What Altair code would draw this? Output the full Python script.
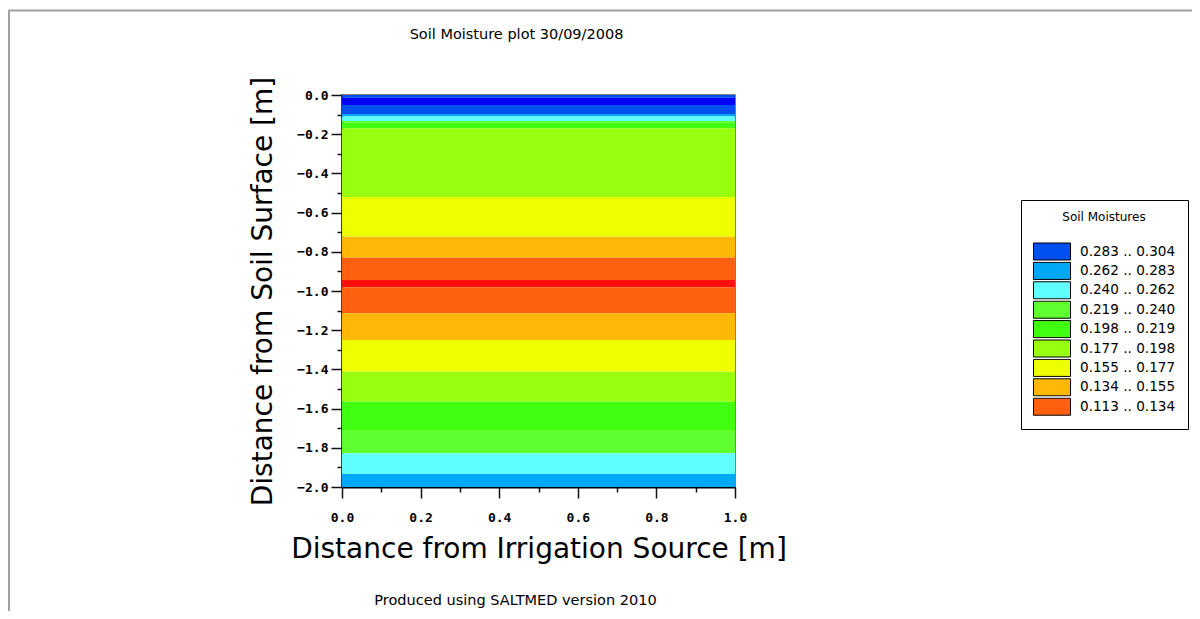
import altair as alt
import pandas as pd

TITLE = "Soil Moisture plot 30/09/2008"
FOOTER = "Produced using SALTMED version 2010"
X_TITLE = "Distance from Irrigation Source [m]"
Y_TITLE = "Distance from Soil Surface [m]"
LEGEND_TITLE = "Soil Moistures"

# horizontal moisture bands (depth in m, negative downward)
BAND_TOP = [0.000, -0.014, -0.051, -0.097, -0.110, -0.133, -0.141, -0.170,
            -0.520, -0.723, -0.830, -0.944, -0.981, -1.114, -1.250, -1.412,
            -1.565, -1.709, -1.828, -1.934]
BAND_BOTTOM = [-0.014, -0.051, -0.097, -0.110, -0.133, -0.141, -0.170, -0.520,
               -0.723, -0.830, -0.944, -0.981, -1.114, -1.250, -1.412, -1.565,
               -1.709, -1.828, -1.934, -2.000]
BAND_CLASS = ["0.283 .. 0.304", "> 0.304", "0.283 .. 0.304", "0.262 .. 0.283",
              "0.240 .. 0.262", "0.219 .. 0.240", "0.198 .. 0.219", "0.177 .. 0.198",
              "0.155 .. 0.177", "0.134 .. 0.155", "0.113 .. 0.134", "< 0.113",
              "0.113 .. 0.134", "0.134 .. 0.155", "0.155 .. 0.177", "0.177 .. 0.198",
              "0.198 .. 0.219", "0.219 .. 0.240", "0.240 .. 0.262", "0.262 .. 0.283"]
X_START = 0.0
X_END = 1.0

LEGEND_CLASSES = ["0.283 .. 0.304", "0.262 .. 0.283", "0.240 .. 0.262",
                  "0.219 .. 0.240", "0.198 .. 0.219", "0.177 .. 0.198",
                  "0.155 .. 0.177", "0.134 .. 0.155", "0.113 .. 0.134"]
LEGEND_COLORS = ["#0050f0", "#00a8f8", "#60ffff", "#60ff30", "#40ff10",
                 "#99ff10", "#eeff00", "#ffb808", "#ff6010"]
EXTRA_CLASSES = ["> 0.304", "< 0.113"]
EXTRA_COLORS = ["#0000f8", "#ff1010"]

X_TICKS = [0.0, 0.2, 0.4, 0.6, 0.8, 1.0]
X_MINOR = [0.1, 0.3, 0.5, 0.7, 0.9]
Y_TICKS = [0.0, -0.2, -0.4, -0.6, -0.8, -1.0, -1.2, -1.4, -1.6, -1.8, -2.0]
Y_MINOR = [-0.1, -0.3, -0.5, -0.7, -0.9, -1.1, -1.3, -1.5, -1.7, -1.9]

n = len(BAND_TOP)
bands = pd.DataFrame({
    "top": BAND_TOP,
    "bottom": BAND_BOTTOM,
    "cls": BAND_CLASS,
    "x0": [X_START] * n,
    "x1": [X_END] * n,
})

TICK_FONT = "DejaVu Sans Mono"
TEXT_FONT = "DejaVu Sans"

x_scale = alt.Scale(domain=[0, 1], nice=False, zero=False)
y_scale = alt.Scale(domain=[-2, 0], nice=False, zero=False)

common_major = dict(
    format=".1f", tickSize=11, tickWidth=1.5, tickColor="#111",
    domainColor="#000", domainWidth=2, grid=False,
    labelFont=TICK_FONT, labelFontSize=13, labelFontWeight="bold",
    labelColor="#000", labelFlush=False, labelOverlap=False, labelBound=False,
    titleFont=TEXT_FONT, titleFontSize=28, titleFontWeight="normal",
    titleColor="#000",
)

major_x = alt.Axis(values=X_TICKS, orient="bottom", title=X_TITLE,
                   labelPadding=13, titlePadding=11, **common_major)
major_y = alt.Axis(values=Y_TICKS, orient="left", title=Y_TITLE,
                   labelPadding=3, titlePadding=19, **common_major)

common_minor = dict(labels=False, domain=False, grid=False, tickSize=5,
                    tickWidth=1.5, tickColor="#111", title=None)
minor_x = alt.Axis(values=X_MINOR, orient="bottom", **common_minor)
minor_y = alt.Axis(values=Y_MINOR, orient="left", **common_minor)

legend = alt.Legend(
    title=LEGEND_TITLE, values=LEGEND_CLASSES, orient="none",
    legendX=679, legendY=105, strokeColor="#000", fillColor="#fff",
    padding=12, titleFont=TEXT_FONT, titleFontSize=12, titleFontWeight="normal",
    titleColor="#000", titleAnchor="middle", titlePadding=18,
    labelFont=TEXT_FONT, labelFontSize=13.6, labelColor="#000", labelOffset=9,
    labelLimit=200,
    symbolType="M-1,-0.46L1,-0.46L1,0.46L-1,0.46Z", symbolSize=1369,
    symbolStrokeColor="#000", symbolStrokeWidth=1, symbolOpacity=1,
    clipHeight=19, rowPadding=0.4,
)

rect = alt.Chart(bands).mark_rect(strokeWidth=0).encode(
    x=alt.X("x0:Q", scale=x_scale, axis=major_x),
    x2="x1:Q",
    y=alt.Y("top:Q", scale=y_scale, axis=major_y),
    y2="bottom:Q",
    color=alt.Color("cls:N",
                    scale=alt.Scale(domain=LEGEND_CLASSES + EXTRA_CLASSES,
                                    range=LEGEND_COLORS + EXTRA_COLORS),
                    legend=legend),
)

minor = alt.Chart(bands).mark_point(opacity=0).encode(
    x=alt.X("x0:Q", scale=x_scale, axis=minor_x),
    y=alt.Y("top:Q", scale=y_scale, axis=minor_y),
)

title = alt.Chart(pd.DataFrame({"t": [TITLE]})).mark_text(
    font=TEXT_FONT, fontSize=14.5, color="#000", align="center", baseline="middle"
).encode(text="t:N", x=alt.value(174.5), y=alt.value(-60))

footer = alt.Chart(pd.DataFrame({"t": [FOOTER]})).mark_text(
    font=TEXT_FONT, fontSize=14.5, color="#000", align="center", baseline="middle"
).encode(text="t:N", x=alt.value(173.5), y=alt.value(506))

one = pd.DataFrame({"k": [0]})
frame_top = alt.Chart(one).mark_rule(color="#a0a0a0", strokeWidth=2).encode(
    x=alt.value(-334), x2=alt.value(860), y=alt.value(-84.5))
frame_left = alt.Chart(one).mark_rule(color="#a0a0a0", strokeWidth=2).encode(
    x=alt.value(-333), y=alt.value(-85), y2=alt.value(530))

chart = alt.layer(rect, minor, title, footer, frame_top, frame_left).resolve_axis(
    x="independent", y="independent"
).properties(
    width=393, height=392,
    autosize=alt.AutoSizeParams(type="none"),
    padding={"left": 334, "top": 87, "right": 457, "bottom": 124},
).configure_view(stroke="#555", strokeWidth=1.5)

chart.save("out.html", embed_options={"renderer": "svg", "actions": False})
